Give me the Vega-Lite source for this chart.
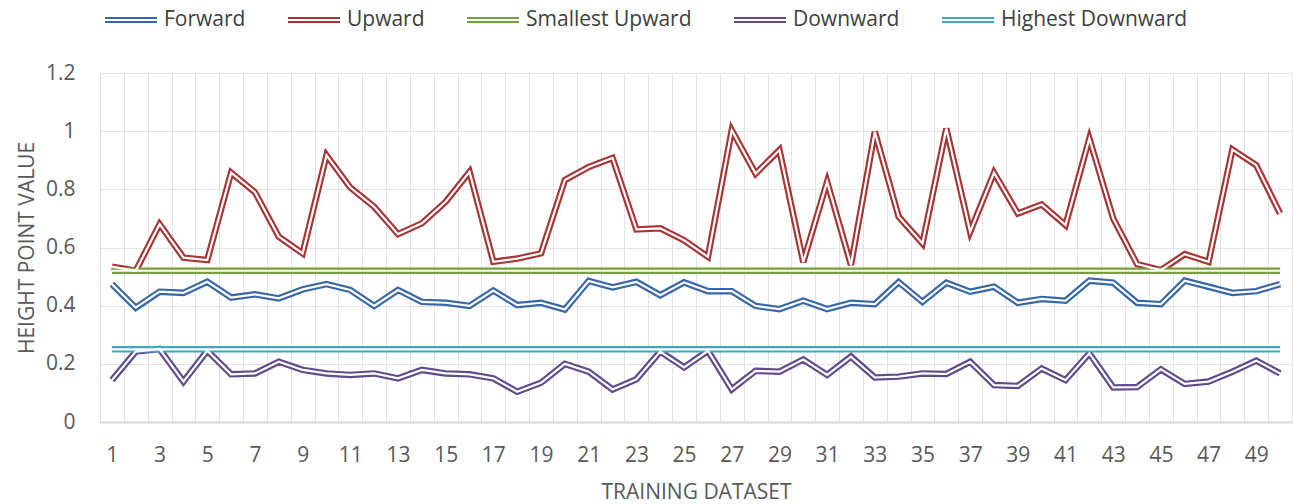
{
  "$schema": "https://vega.github.io/schema/vega-lite/v6.json",
  "width": 1192,
  "height": 349,
  "autosize": {"type": "none"},
  "padding": {"left": 100, "top": 73, "right": 1, "bottom": 82},
  "background": "white",
  "config": {"view": {"stroke": null}, "font": "Open Sans"},
  "data": {"values": [
    {"i": 1, "Forward": 0.474, "Upward": 0.534, "Smallest Upward": 0.52, "Downward": 0.144, "Highest Downward": 0.25},
    {"i": 2, "Forward": 0.393, "Upward": 0.52, "Smallest Upward": 0.52, "Downward": 0.242, "Highest Downward": 0.25},
    {"i": 3, "Forward": 0.448, "Upward": 0.68, "Smallest Upward": 0.52, "Downward": 0.251, "Highest Downward": 0.25},
    {"i": 4, "Forward": 0.444, "Upward": 0.565, "Smallest Upward": 0.52, "Downward": 0.139, "Highest Downward": 0.25},
    {"i": 5, "Forward": 0.482, "Upward": 0.557, "Smallest Upward": 0.52, "Downward": 0.245, "Highest Downward": 0.25},
    {"i": 6, "Forward": 0.428, "Upward": 0.857, "Smallest Upward": 0.52, "Downward": 0.164, "Highest Downward": 0.25},
    {"i": 7, "Forward": 0.439, "Upward": 0.79, "Smallest Upward": 0.52, "Downward": 0.167, "Highest Downward": 0.25},
    {"i": 8, "Forward": 0.425, "Upward": 0.637, "Smallest Upward": 0.52, "Downward": 0.207, "Highest Downward": 0.25},
    {"i": 9, "Forward": 0.456, "Upward": 0.58, "Smallest Upward": 0.52, "Downward": 0.179, "Highest Downward": 0.25},
    {"i": 10, "Forward": 0.474, "Upward": 0.917, "Smallest Upward": 0.52, "Downward": 0.167, "Highest Downward": 0.25},
    {"i": 11, "Forward": 0.454, "Upward": 0.806, "Smallest Upward": 0.52, "Downward": 0.162, "Highest Downward": 0.25},
    {"i": 12, "Forward": 0.399, "Upward": 0.74, "Smallest Upward": 0.52, "Downward": 0.167, "Highest Downward": 0.25},
    {"i": 13, "Forward": 0.454, "Upward": 0.646, "Smallest Upward": 0.52, "Downward": 0.15, "Highest Downward": 0.25},
    {"i": 14, "Forward": 0.413, "Upward": 0.683, "Smallest Upward": 0.52, "Downward": 0.179, "Highest Downward": 0.25},
    {"i": 15, "Forward": 0.41, "Upward": 0.757, "Smallest Upward": 0.52, "Downward": 0.167, "Highest Downward": 0.25},
    {"i": 16, "Forward": 0.399, "Upward": 0.86, "Smallest Upward": 0.52, "Downward": 0.164, "Highest Downward": 0.25},
    {"i": 17, "Forward": 0.452, "Upward": 0.551, "Smallest Upward": 0.52, "Downward": 0.15, "Highest Downward": 0.25},
    {"i": 18, "Forward": 0.402, "Upward": 0.562, "Smallest Upward": 0.52, "Downward": 0.104, "Highest Downward": 0.25},
    {"i": 19, "Forward": 0.41, "Upward": 0.58, "Smallest Upward": 0.52, "Downward": 0.135, "Highest Downward": 0.25},
    {"i": 20, "Forward": 0.387, "Upward": 0.832, "Smallest Upward": 0.52, "Downward": 0.2, "Highest Downward": 0.25},
    {"i": 21, "Forward": 0.485, "Upward": 0.877, "Smallest Upward": 0.52, "Downward": 0.173, "Highest Downward": 0.25},
    {"i": 22, "Forward": 0.463, "Upward": 0.908, "Smallest Upward": 0.52, "Downward": 0.112, "Highest Downward": 0.25},
    {"i": 23, "Forward": 0.482, "Upward": 0.662, "Smallest Upward": 0.52, "Downward": 0.147, "Highest Downward": 0.25},
    {"i": 24, "Forward": 0.436, "Upward": 0.666, "Smallest Upward": 0.52, "Downward": 0.242, "Highest Downward": 0.25},
    {"i": 25, "Forward": 0.48, "Upward": 0.625, "Smallest Upward": 0.52, "Downward": 0.188, "Highest Downward": 0.25},
    {"i": 26, "Forward": 0.45, "Upward": 0.568, "Smallest Upward": 0.52, "Downward": 0.245, "Highest Downward": 0.25},
    {"i": 27, "Forward": 0.45, "Upward": 1.003, "Smallest Upward": 0.52, "Downward": 0.112, "Highest Downward": 0.25},
    {"i": 28, "Forward": 0.399, "Upward": 0.854, "Smallest Upward": 0.52, "Downward": 0.176, "Highest Downward": 0.25},
    {"i": 29, "Forward": 0.388, "Upward": 0.935, "Smallest Upward": 0.52, "Downward": 0.173, "Highest Downward": 0.25},
    {"i": 30, "Forward": 0.417, "Upward": 0.55, "Smallest Upward": 0.52, "Downward": 0.215, "Highest Downward": 0.25},
    {"i": 31, "Forward": 0.388, "Upward": 0.826, "Smallest Upward": 0.52, "Downward": 0.162, "Highest Downward": 0.25},
    {"i": 32, "Forward": 0.41, "Upward": 0.54, "Smallest Upward": 0.52, "Downward": 0.225, "Highest Downward": 0.25},
    {"i": 33, "Forward": 0.405, "Upward": 0.998, "Smallest Upward": 0.52, "Downward": 0.153, "Highest Downward": 0.25},
    {"i": 34, "Forward": 0.481, "Upward": 0.706, "Smallest Upward": 0.52, "Downward": 0.156, "Highest Downward": 0.25},
    {"i": 35, "Forward": 0.413, "Upward": 0.614, "Smallest Upward": 0.52, "Downward": 0.167, "Highest Downward": 0.25},
    {"i": 36, "Forward": 0.479, "Upward": 1.009, "Smallest Upward": 0.52, "Downward": 0.165, "Highest Downward": 0.25},
    {"i": 37, "Forward": 0.448, "Upward": 0.654, "Smallest Upward": 0.52, "Downward": 0.207, "Highest Downward": 0.25},
    {"i": 38, "Forward": 0.465, "Upward": 0.857, "Smallest Upward": 0.52, "Downward": 0.127, "Highest Downward": 0.25},
    {"i": 39, "Forward": 0.41, "Upward": 0.717, "Smallest Upward": 0.52, "Downward": 0.124, "Highest Downward": 0.25},
    {"i": 40, "Forward": 0.423, "Upward": 0.748, "Smallest Upward": 0.52, "Downward": 0.184, "Highest Downward": 0.25},
    {"i": 41, "Forward": 0.417, "Upward": 0.677, "Smallest Upward": 0.52, "Downward": 0.144, "Highest Downward": 0.25},
    {"i": 42, "Forward": 0.486, "Upward": 0.975, "Smallest Upward": 0.52, "Downward": 0.236, "Highest Downward": 0.25},
    {"i": 43, "Forward": 0.479, "Upward": 0.7, "Smallest Upward": 0.52, "Downward": 0.119, "Highest Downward": 0.25},
    {"i": 44, "Forward": 0.41, "Upward": 0.543, "Smallest Upward": 0.52, "Downward": 0.12, "Highest Downward": 0.25},
    {"i": 45, "Forward": 0.405, "Upward": 0.522, "Smallest Upward": 0.52, "Downward": 0.181, "Highest Downward": 0.25},
    {"i": 46, "Forward": 0.486, "Upward": 0.577, "Smallest Upward": 0.52, "Downward": 0.131, "Highest Downward": 0.25},
    {"i": 47, "Forward": 0.465, "Upward": 0.551, "Smallest Upward": 0.52, "Downward": 0.139, "Highest Downward": 0.25},
    {"i": 48, "Forward": 0.444, "Upward": 0.937, "Smallest Upward": 0.52, "Downward": 0.173, "Highest Downward": 0.25},
    {"i": 49, "Forward": 0.45, "Upward": 0.883, "Smallest Upward": 0.52, "Downward": 0.211, "Highest Downward": 0.25},
    {"i": 50, "Forward": 0.474, "Upward": 0.717, "Smallest Upward": 0.52, "Downward": 0.167, "Highest Downward": 0.25}
  ]},
  "transform": [
    {"fold": ["Forward", "Upward", "Smallest Upward", "Downward", "Highest Downward"], "as": ["s", "v"]}
  ],
  "encoding": {
    "x": {
      "field": "i", "type": "ordinal", "sort": "ascending",
      "bandPosition": 0.5,
      "scale": {"type": "band", "paddingInner": 0, "paddingOuter": 0},
      "title": "TRAINING DATASET",
      "axis": {
        "tickBand": "extent", "grid": true, "gridColor": "#E4E4E4", "gridWidth": 1,
        "ticks": false, "domainColor": "#D9D9D9", "domainWidth": 2,
        "labelAngle": 0, "labelFontSize": 21, "labelColor": "#595959", "labelPadding": 22,
        "labelExpr": "datum.value % 2 == 1 ? datum.label : ''",
        "titleFontSize": 21, "titleFontWeight": "normal", "titleColor": "#595959", "titlePadding": 16
      }
    },
    "y": {
      "field": "v", "type": "quantitative",
      "scale": {"domain": [0, 1.2]},
      "title": "HEIGHT POINT VALUE",
      "axis": {
        "values": [0, 0.2, 0.4, 0.6, 0.8, 1, 1.2], "format": "~g",
        "grid": true, "gridColor": "#E4E4E4", "ticks": false,
        "domain": true, "domainColor": "#D9D9D9",
        "labelFontSize": 21, "labelColor": "#595959", "labelPadding": 25,
        "titleFontSize": 21, "titleFontWeight": "normal", "titleColor": "#595959", "titlePadding": 8
      }
    }
  },
  "layer": [
    {
      "mark": {"type": "line", "strokeWidth": 6.5, "strokeJoin": "miter"},
      "encoding": {
        "color": {
          "field": "s", "type": "nominal",
          "scale": {
            "domain": ["Forward", "Upward", "Smallest Upward", "Downward", "Highest Downward"],
            "range": ["#3867A6", "#A63434", "#77A03C", "#614A8B", "#42A4C1"]
          },
          "legend": {
            "orient": "none", "legendX": 4, "legendY": -80, "direction": "horizontal", "columns": 5,
            "title": null, "padding": 0, "labelLimit": 400,
            "symbolType": "M-1,-0.08H1M-1,0.08H1", "symbolSize": 2704, "symbolStrokeWidth": 2,
            "labelFontSize": 21, "labelColor": "#404040", "labelOffset": 6, "columnPadding": 38
          }
        }
      }
    },
    {
      "mark": {"type": "line", "strokeWidth": 2.2, "color": "white", "strokeJoin": "miter"},
      "encoding": {"detail": {"field": "s", "type": "nominal"}}
    }
  ]
}
